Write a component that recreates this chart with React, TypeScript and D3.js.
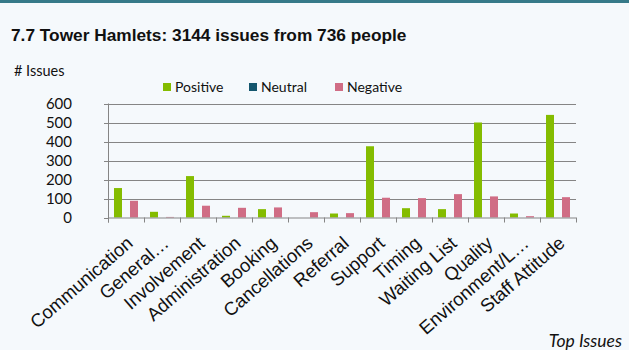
import React from "react";
import * as d3 from "d3";

const categories = [
  "Communication",
  "General…",
  "Involvement",
  "Administration",
  "Booking",
  "Cancellations",
  "Referral",
  "Support",
  "Timing",
  "Waiting List",
  "Quality",
  "Environment/L…",
  "Staff Attitude",
];
const seriesNames = ["Positive", "Neutral", "Negative"];
const positive = [155, 30, 218, 9, 44, 0, 21, 375, 49, 44, 500, 21, 540];
const neutral = [0, 0, 0, 0, 0, 0, 0, 0, 0, 0, 0, 0, 0];
const negative = [88, 3, 62, 51, 53, 28, 23, 104, 102, 123, 111, 7, 107];
const yTicks = [0, 100, 200, 300, 400, 500, 600];
const colors = ["#84bc00", "#14566e", "#d06d85"];

const W = 629;
const H = 350;
const plotLeft = 108;
const plotRight = 576;
const plotTop = 103.5;
const plotBottom = 217.5;

export default function App() {
  const x = d3.scaleBand<string>().domain(categories).range([plotLeft, plotRight]).paddingInner(0).paddingOuter(0);
  const inner = d3
    .scaleBand<string>()
    .domain(seriesNames)
    .range([0, x.bandwidth()])
    .paddingInner(0)
    .paddingOuter(0.75);
  const y = d3.scaleLinear().domain([0, 600]).range([plotBottom, plotTop]);
  const series = [positive, neutral, negative];
  const sans = "Lato, 'Open Sans', sans-serif";
  const arial = "'Liberation Sans', Arial, sans-serif";
  const boundaries = [...categories.map((c) => x(c) as number), plotRight];

  return (
    <svg
      width={W}
      height={H}
      style={{ position: "absolute", left: 0, top: 0, display: "block" }}
    >
      <rect x={0} y={0} width={W} height={H} fill="#f5f9fc" />
      <rect x={0} y={0} width={W} height={3} fill="#367a89" />
      <text x={11} y={41} fontFamily={arial} fontWeight="bold" fontSize={17.3} fill="#111">
        7.7 Tower Hamlets: 3144 issues from 736 people
      </text>
      <text x={14} y={76} fontFamily={sans} fontSize={14.5} fill="#111">
        # Issues
      </text>

      {/* legend */}
      {seriesNames.map((s, i) => {
        const lx = [163, 249, 335][i];
        return (
          <g key={s}>
            <rect x={lx} y={83} width={8} height={8} fill={colors[i]} />
            <text x={lx + 12} y={92} fontFamily={sans} fontSize={14} fill="#111">
              {s}
            </text>
          </g>
        );
      })}

      {/* gridlines */}
      {yTicks.map((t) => (
        <g key={t}>
          {t > 0 && (
            <line
              x1={plotLeft}
              x2={plotRight}
              y1={Math.round(y(t)) + 0.5}
              y2={Math.round(y(t)) + 0.5}
              stroke="#858585"
              strokeWidth={1.2}
            />
          )}
          <line
            x1={plotLeft - 4}
            x2={plotLeft}
            y1={Math.round(y(t)) + 0.5}
            y2={Math.round(y(t)) + 0.5}
            stroke="#858585"
          />
          <text
            x={72}
            y={y(t)}
            dy="0.36em"
            textAnchor="end"
            fontFamily={sans}
            fontSize={15}
            fill="#111"
          >
            {t}
          </text>
        </g>
      ))}

      {/* bars */}
      {categories.map((c, ci) =>
        series.map((vals, si) => {
          const v = vals[ci];
          if (v <= 0) return null;
          const bx = (x(c) as number) + (inner(seriesNames[si]) as number);
          return (
            <rect
              key={c + si}
              x={bx}
              y={y(v)}
              width={inner.bandwidth()}
              height={y(0) - y(v)}
              fill={colors[si]}
            />
          );
        })
      )}

      {/* axes */}
      <line x1={plotLeft + 0.5} x2={plotLeft + 0.5} y1={plotTop} y2={plotBottom + 5} stroke="#858585" />
      <line x1={plotLeft} x2={plotRight} y1={plotBottom + 0.5} y2={plotBottom + 0.5} stroke="#858585" strokeWidth={1.2} />
      {boundaries.map((bx, i) => (
        <line
          key={i}
          x1={Math.round(bx) + 0.5}
          x2={Math.round(bx) + 0.5}
          y1={plotBottom}
          y2={plotBottom + 5}
          stroke="#858585"
        />
      ))}

      {/* category labels */}
      {categories.map((c) => {
        const cx = (x(c) as number) + x.bandwidth() / 2;
        return (
          <text
            key={c}
            transform={`translate(${cx + 8},${245}) rotate(-41)`}
            textAnchor="end"
            fontFamily={arial}
            fontSize={18.5}
            fill="#111"
          >
            {c}
          </text>
        );
      })}

      <text
        x={622}
        y={347}
        textAnchor="end"
        fontFamily={sans}
        fontStyle="italic"
        fontSize={17.5}
        fill="#111"
      >
        Top Issues
      </text>
    </svg>
  );
}
